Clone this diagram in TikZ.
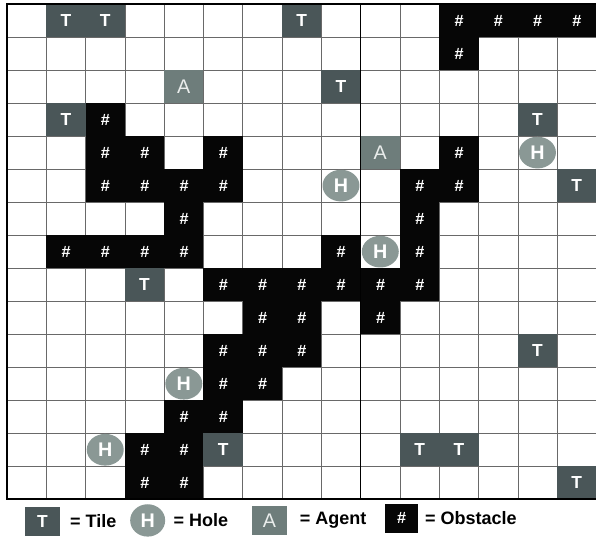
\documentclass[tikz,border=0pt]{standalone}
\usepackage{xcolor}
\usepackage{fontspec}
\setsansfont{Liberation Sans}
\usepackage{tikz}
\usetikzlibrary{shapes.geometric, positioning}
\definecolor{tilegray}{RGB}{74,86,88}
\definecolor{agentgray}{RGB}{110,125,123}
\definecolor{holegray}{RGB}{138,152,149}
\definecolor{gridgray}{RGB}{105,105,105}
\definecolor{obsblack}{RGB}{6,6,6}
\tikzset{
  cell/.style={rectangle, minimum width=1.19cm, minimum height=1cm,
    inner sep=0pt, text=white},
  tilecell/.style={cell, fill=tilegray,
    font=\sffamily\bfseries\fontsize{15}{15}\selectfont},
  agentcell/.style={cell, fill=agentgray, text=white!85!agentgray,
    font=\sffamily\fontsize{17}{17}\selectfont},
  obscell/.style={cell, fill=obsblack,
    font=\sffamily\bfseries\itshape\fontsize{14}{14}\selectfont},
  holecell/.style={ellipse, fill=holegray, minimum width=1.12cm,
    minimum height=0.96cm, inner sep=0pt, text=white,
    font=\sffamily\bfseries\fontsize{17}{17}\selectfont},
  legbox/.style={minimum width=1.06cm, minimum height=0.88cm},
  legtext/.style={inner sep=0pt, anchor=west,
    font=\sffamily\bfseries\fontsize{15.5}{15.5}\selectfont},
  gridline/.style={line width=0.5pt, color=gridgray},
  border/.style={line width=1.4pt, color=black}
}

\begin{document}
\begin{tikzpicture}[x=1.19cm, y=-1cm]
  \useasboundingbox (-0.178,-0.121) rectangle (14.99,16.15);

  % Grid lines
  \foreach \i in {0,...,15}
    \draw[gridline] (\i,0) -- (\i,15);
  \foreach \j in {0,...,15}
    \draw[gridline] (0,\j) -- (15,\j);

  % Obstacles
  \foreach \c/\r in {11/0,12/0,13/0,14/0, 11/1, 2/3,
      2/4,3/4,5/4,11/4, 2/5,3/5,4/5,5/5,10/5,11/5, 4/6,10/6,
      1/7,2/7,3/7,4/7,8/7,10/7, 5/8,6/8,7/8,8/8,9/8,10/8,
      6/9,7/9,9/9, 5/10,6/10,7/10, 5/11,6/11, 4/12,5/12,
      3/13,4/13, 3/14,4/14}
    \node[obscell] (obs-\c-\r) at (\c+0.5,\r+0.5) {\#};

  % Tiles
  \foreach \c/\r in {1/0,2/0,7/0,8/2,1/3,13/3,14/5,3/8,13/10,
      5/13,10/13,11/13,14/14}
    \node[tilecell] (tile-\c-\r) at (\c+0.5,\r+0.5) {T};

  % Agents
  \foreach \c/\r in {4/2,9/4}
    \node[agentcell] (agent-\c-\r) at (\c+0.5,\r+0.5) {A};

  % Holes
  \foreach \c/\r in {13/4,8/5,9/7,4/11,2/13}
    \node[holecell] (hole-\c-\r) at (\c+0.5,\r+0.5) {H};

  % Outer frame and middle line
  \draw[border] (15,0) -- (0,0) -- (0,15) -- (15,15);
  \draw[line width=1pt] (9,0) -- (9,15);

  % Legend
  \node[tilecell, legbox] (legtile) at (0.90,15.66) {T};
  \node[legtext, right=0.3cm of legtile] (legtiletxt) {= Tile};
  \node[holecell, minimum width=1.06cm, minimum height=0.98cm] (leghole) at (3.58,15.64) {H};
  \node[legtext, right=0.24cm of leghole] (legholetxt) {= Hole};
  \node[agentcell, legbox] (legagent) at (6.68,15.64) {A};
  \node[legtext, right=0.38cm of legagent] (legagenttxt) {= Agent};
  \node[obscell, minimum width=1.0cm, minimum height=0.9cm] (legobs) at (10.04,15.58) {\#};
  \node[legtext, right=0.2cm of legobs] (legobstxt) {= Obstacle};
\end{tikzpicture}
\end{document}
